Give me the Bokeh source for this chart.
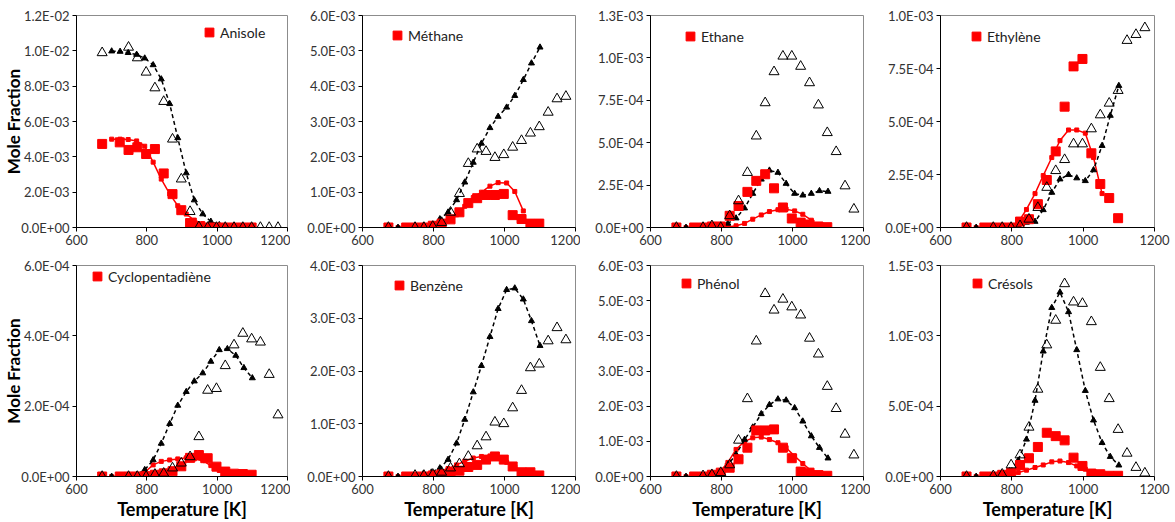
from bokeh.plotting import figure
from bokeh.layouts import gridplot
from bokeh.models import Range1d, FixedTicker, Legend, LegendItem
from bokeh.embed import file_html
from bokeh.resources import INLINE
import numpy as np

FONT = "Lato"

# Temperatures [K]
T_sq = [673, 723, 748, 773, 798, 823, 848, 873, 898, 923, 948, 973, 998, 1023, 1048, 1073, 1098]
T_tri = [673, 748, 773, 798, 823, 848, 873, 898, 923, 948, 973, 998, 1023, 1048, 1073, 1098, 1123, 1148, 1173]
T_model = [700, 724, 747, 771, 794, 818, 841, 865, 888, 912, 935, 959, 982, 1006, 1029, 1053, 1076, 1100]
T_model_red = [700, 724, 747, 771, 794, 818, 841, 865, 888, 912, 935, 959, 982, 1006, 1029, 1053]

x_ticks = [600, 800, 1000, 1200]

# Anisole (units 1e-3)
anisole_sq = [4.73, 4.82, 4.39, 4.54, 4.16, 4.44, 3.06, 1.89, 0.98, 0.25, 0.06, 0, 0, 0, 0, 0, 0]
anisole_tri = [9.89, 10.2, 9.6, 8.79, 7.9, 7.13, 5.0, 2.74, 0.9, 0.04, 0, 0, 0, 0, 0, 0, 0, 0, 0]
anisole_model = [9.98, 9.96, 9.89, 9.79, 9.58, 9.2, 8.4, 7.0, 5.07, 3.08, 1.55, 0.76, 0.34, 0.15, 0.06, 0.02, 0.01, 0.0]
anisole_red = [5.0, 5.0, 4.98, 4.9, 4.6, 3.7, 2.74, 1.9, 1.23, 0.76, 0.42, 0.22, 0.12, 0.06, 0.03, 0.01]
anisole_yticks = [0, 2e-3, 4e-3, 6e-3, 8e-3, 10e-3, 12e-3]
anisole_ylabels = ["0.0E+00", "2.0E-03", "4.0E-03", "6.0E-03", "8.0E-03", "1.0E-02", "1.2E-02"]

# Méthane (units 1e-3)
methane_sq = [0, 0, 0, 0, 0.05, 0.11, 0.23, 0.43, 0.69, 0.83, 0.92, 0.92, 0.95, 0.35, 0.24, 0.11, 0.11]
methane_tri = [0, 0, 0, 0.03, 0.14, 0.43, 0.96, 1.81, 2.22, 2.15, 1.98, 2.06, 2.27, 2.46, 2.67, 2.85, 3.26, 3.64, 3.71]
methane_model = [0, 0.01, 0.02, 0.04, 0.08, 0.24, 0.43, 0.78, 1.28, 1.84, 2.38, 2.82, 3.14, 3.4, 3.73, 4.18, 4.65, 5.1]
methane_red = [0, 0, 0, 0.01, 0.03, 0.08, 0.18, 0.36, 0.6, 0.85, 1.0, 1.17, 1.27, 1.26, 1.02, 0.47]
methane_yticks = [0, 1e-3, 2e-3, 3e-3, 4e-3, 5e-3, 6e-3]
methane_ylabels = ["0.0E+00", "1.0E-03", "2.0E-03", "3.0E-03", "4.0E-03", "5.0E-03", "6.0E-03"]

# Ethane (units 1e-4)
ethane_sq = [0, 0, 0, 0.06, 0.06, 0.69, 1.27, 2.1, 2.75, 3.14, 2.31, 1.18, 0.53, 0.29, 0.18, 0.06, 0.02]
ethane_tri = [0, 0, 0.1, 0, 0.69, 1.57, 3.24, 5.39, 7.35, 9.18, 10.1, 10.1, 9.5, 8.53, 7.22, 5.59, 4.47, 2.45, 1.08]
ethane_model = [0, 0, 0, 0.01, 0.05, 0.24, 0.55, 1.14, 2.0, 2.84, 3.37, 3.24, 2.59, 2.0, 1.9, 2.0, 2.16, 2.12]
ethane_red = [0, 0, 0, 0, 0.01, 0.03, 0.1, 0.24, 0.49, 0.74, 0.94, 1.05, 1.08, 0.98, 0.78, 0.43]
ethane_yticks = [0, 2.5e-4, 5e-4, 7.5e-4, 1e-3, 1.25e-3]
ethane_ylabels = ["0.0E+00", "2.5E-04", "5.0E-04", "7.5E-04", "1.0E-03", "1.3E-03"]

# Ethylène (units 1e-4)
ethylene_sq = [0, 0, 0, 0, 0, 0.28, 0.39, 1.1, 2.24, 3.59, 5.7, 7.6, 7.95, 3.5, 2.05, 1.39, 0.44]
ethylene_tri = [0, 0, 0, 0, 0.08, 0.39, 0.94, 1.89, 2.68, 3.2, 3.94, 3.94, 4.65, 5.31, 5.86, 6.46, 8.82, 9.1, 9.42]
ethylene_model = [0, 0, 0, 0, 0, 0.13, 0.24, 0.28, 0.83, 1.65, 2.28, 2.49, 2.33, 2.2, 2.71, 3.86, 5.28, 6.69]
ethylene_red = [0, 0, 0, 0, 0.02, 0.25, 0.85, 1.6, 2.45, 3.3, 4.1, 4.6, 4.6, 4.45, 3.3, 1.6]
ethylene_yticks = [0, 2.5e-4, 5e-4, 7.5e-4, 1e-3]
ethylene_ylabels = ["0.0E+00", "2.5E-04", "5.0E-04", "7.5E-04", "1.0E-03"]

# Cyclopentadiène (units 1e-4)
cpd_sq = [0, 0, 0, 0, 0.01, 0.05, 0.09, 0.15, 0.29, 0.53, 0.61, 0.52, 0.28, 0.14, 0.08, 0.07, 0.05]
cpd_tri = [0, 0, 0, 0, 0.06, 0.09, 0.24, 0.38, 0.56, 1.13, 2.45, 2.5, 3.15, 3.74, 4.07, 3.91, 3.82, 2.9, 1.75]
cpd_model = [0, 0, 0, 0.05, 0.19, 0.47, 0.94, 1.5, 2.02, 2.41, 2.71, 2.94, 3.27, 3.6, 3.63, 3.44, 3.09, 2.8]
cpd_red = [0, 0, 0, 0.03, 0.12, 0.33, 0.43, 0.47, 0.5, 0.53, 0.5, 0.45, 0.31, 0.17, 0.1, 0.06]
cpd_yticks = [0, 2e-4, 4e-4, 6e-4]
cpd_ylabels = ["0.0E+00", "2.0E-04", "4.0E-04", "6.0E-04"]

# Benzène (units 1e-3)
benzene_sq = [0, 0, 0, 0, 0.02, 0.04, 0.08, 0.11, 0.18, 0.22, 0.32, 0.38, 0.32, 0.19, 0.08, 0.08, 0.02]
benzene_tri = [0, 0.02, 0.02, 0.04, 0.08, 0.16, 0.24, 0.38, 0.58, 0.75, 1.03, 1.0, 1.3, 1.63, 2.06, 2.13, 2.57, 2.82, 2.59]
benzene_model = [0, 0, 0.01, 0.05, 0.08, 0.16, 0.32, 0.63, 1.08, 1.6, 2.1, 2.65, 3.18, 3.54, 3.57, 3.36, 2.95, 2.48]
benzene_red = [0, 0, 0, 0.02, 0.05, 0.1, 0.15, 0.22, 0.29, 0.35, 0.38, 0.39, 0.36, 0.27, 0.18, 0.08]
benzene_yticks = [0, 1e-3, 2e-3, 3e-3, 4e-3]
benzene_ylabels = ["0.0E+00", "1.0E-03", "2.0E-03", "3.0E-03", "4.0E-03"]

# Phénol (units 1e-3)
phenol_sq = [0, 0, 0, 0.05, 0.11, 0.25, 0.49, 0.82, 1.31, 1.31, 1.34, 0.82, 0.52, 0.14, 0.11, 0.04, 0.02]
phenol_tri = [0, 0.02, 0.05, 0.11, 0.33, 1.03, 2.21, 3.85, 5.2, 4.73, 5.04, 4.82, 4.59, 3.93, 3.48, 2.56, 1.93, 1.2, 0.61]
phenol_model = [0, 0, 0, 0.06, 0.14, 0.33, 0.63, 1.05, 1.4, 1.78, 2.04, 2.2, 2.17, 1.95, 1.57, 1.15, 0.82, 0.52]
phenol_red = [0, 0, 0.01, 0.05, 0.12, 0.4, 0.77, 1.0, 1.1, 1.12, 1.05, 0.96, 0.82, 0.58, 0.37, 0.16]
phenol_yticks = [0, 1e-3, 2e-3, 3e-3, 4e-3, 5e-3, 6e-3]
phenol_ylabels = ["0.0E+00", "1.0E-03", "2.0E-03", "3.0E-03", "4.0E-03", "5.0E-03", "6.0E-03"]

# Crésols (units 1e-4)
cresols_sq = [0, 0, 0, 0.12, 0.26, 0.82, 1.3, 2.1, 3.11, 2.87, 2.57, 1.34, 0.75, 0.21, 0.16, 0.05, 0.05]
cresols_tri = [0, 0.05, 0.16, 0.82, 1.53, 3.5, 6.2, 9.35, 11.1, 13.7, 12.4, 12.3, 11.0, 7.75, 5.53, 3.34, 1.65, 0.64, 0.24]
cresols_model = [0, 0, 0, 0.1, 0.4, 1.15, 2.64, 5.4, 8.9, 12.0, 13.1, 11.7, 9.0, 6.1, 4.0, 2.4, 1.41, 0.8]
cresols_red = [0, 0, 0.02, 0.08, 0.16, 0.28, 0.45, 0.64, 0.82, 1.04, 1.1, 0.99, 0.75, 0.52, 0.33, 0.2]
cresols_yticks = [0, 5e-4, 1e-3, 1.5e-3]
cresols_ylabels = ["0.0E+00", "5.0E-04", "1.0E-03", "1.5E-03"]

names = ["Anisole", "Méthane", "Ethane", "Ethylène", "Cyclopentadiène", "Benzène", "Phénol", "Crésols"]

# column geometry: (fig width, left border, right border)
COLS = [(290, 75, 3), (290, 72, 5), (290, 70, 7), (305, 70, 21)]
# row geometry: (fig height, top border, bottom border)
ROWS = [(255, 15, 28), (267, 10, 44)]
# legend glyph centre, relative to frame (x from left, y from bottom)
LEG = [(133, 195), (35, 192), (40, 191), (36, 191), (21, 200), (37, 191), (36, 193), (37, 193)]
GLYPH = 22


def panel(idx, name, unit, sq, tri, model, red, yticks, ylabels):
    r, c = divmod(idx, 4)
    fw, bl, br = COLS[c]
    fh, bt, bb = ROWS[r]
    p = figure(width=fw, height=fh, output_backend="svg", toolbar_location=None,
               x_range=Range1d(600, 1200), y_range=Range1d(0, yticks[-1]),
               min_border_left=bl, min_border_right=br, min_border_top=bt, min_border_bottom=bb,
               background_fill_color="white", border_fill_color="white")
    p.grid.visible = False
    p.outline_line_color = "#8c8c8c"
    p.outline_line_width = 1

    ym = np.array(model) * unit
    yr = np.array(red) * unit
    ys = np.array(sq) * unit
    yt = np.array(tri) * unit

    p.line(T_model_red, yr, line_color="#ff0000", line_width=1.5)
    p.scatter(T_model_red, yr, marker="square", size=4, fill_color="#ff0000", line_color="#ff0000")
    p.line(T_model, ym, line_color="black", line_width=1.5, line_dash="4 3")
    p.scatter(T_model, ym, marker="triangle", size=6, fill_color="black", line_color="black")
    rs = p.scatter(T_sq, ys, marker="square", size=9, fill_color="#ff0000", line_color="#ff0000")
    p.scatter(T_tri, yt, marker="triangle", size=10, fill_color=None, line_color="black", line_width=1)

    lx, ly = LEG[idx]
    leg = Legend(items=[LegendItem(label=name, renderers=[rs])],
                 location=(lx - GLYPH // 2, ly - GLYPH // 2),
                 background_fill_alpha=0, border_line_color=None, padding=0, margin=0,
                 glyph_width=GLYPH, glyph_height=GLYPH, label_height=14, label_standoff=-4,
                 label_text_font=FONT, label_text_font_size="14px", label_text_color="#222222")
    p.add_layout(leg)

    p.xaxis.ticker = FixedTicker(ticks=x_ticks)
    p.yaxis.ticker = FixedTicker(ticks=yticks)
    p.yaxis.major_label_overrides = dict(zip(yticks, ylabels))
    for ax in (p.xaxis[0], p.yaxis[0]):
        ax.axis_line_color = "black"
        ax.axis_line_width = 1
        ax.major_tick_line_color = "black"
        ax.major_tick_in = 0
        ax.major_tick_out = 4
        ax.minor_tick_line_color = None
        ax.major_label_text_font = FONT
        ax.major_label_text_font_size = "13px"
        ax.major_label_text_color = "#333333"
        ax.axis_label_text_font = FONT
        ax.axis_label_text_font_style = "bold"
        ax.axis_label_text_color = "black"
    p.xaxis.major_label_standoff = 3
    p.yaxis.major_label_standoff = 3
    if c == 0:
        p.yaxis.axis_label = "Mole Fraction"
        p.yaxis.axis_label_text_font_size = "17px"
        p.yaxis.axis_label_standoff = -6
    if r == 1:
        p.xaxis.axis_label = "Temperature [K]"
        p.xaxis.axis_label_text_font_size = "18px"
        p.xaxis.axis_label_standoff = 1
    return p


p1 = panel(0, names[0], 1e-3, anisole_sq, anisole_tri, anisole_model, anisole_red, anisole_yticks, anisole_ylabels)
p2 = panel(1, names[1], 1e-3, methane_sq, methane_tri, methane_model, methane_red, methane_yticks, methane_ylabels)
p3 = panel(2, names[2], 1e-4, ethane_sq, ethane_tri, ethane_model, ethane_red, ethane_yticks, ethane_ylabels)
p4 = panel(3, names[3], 1e-4, ethylene_sq, ethylene_tri, ethylene_model, ethylene_red, ethylene_yticks, ethylene_ylabels)
p5 = panel(4, names[4], 1e-4, cpd_sq, cpd_tri, cpd_model, cpd_red, cpd_yticks, cpd_ylabels)
p6 = panel(5, names[5], 1e-3, benzene_sq, benzene_tri, benzene_model, benzene_red, benzene_yticks, benzene_ylabels)
p7 = panel(6, names[6], 1e-3, phenol_sq, phenol_tri, phenol_model, phenol_red, phenol_yticks, phenol_ylabels)
p8 = panel(7, names[7], 1e-4, cresols_sq, cresols_tri, cresols_model, cresols_red, cresols_yticks, cresols_ylabels)

grid = gridplot([[p1, p2, p3, p4], [p5, p6, p7, p8]], toolbar_location=None)

open("out.html", "w").write(file_html(grid, INLINE))
